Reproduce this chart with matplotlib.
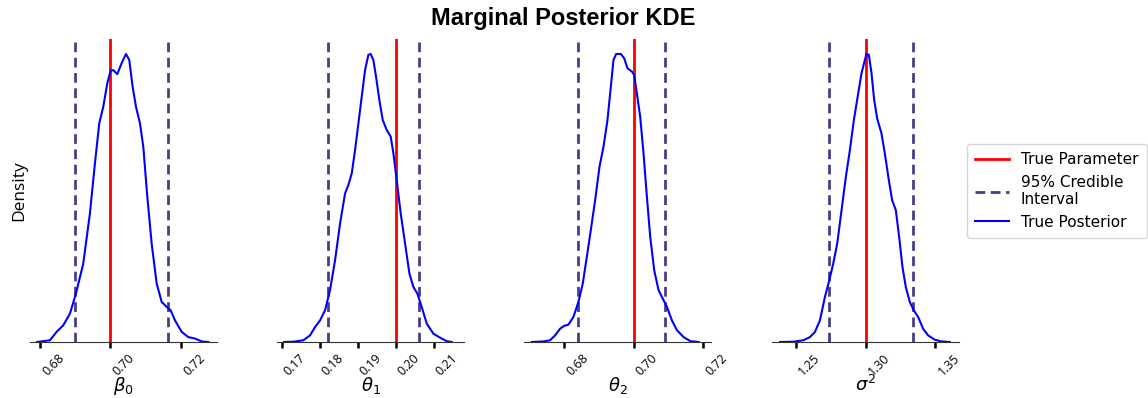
import numpy as np
import matplotlib
matplotlib.use("Agg")
import matplotlib.pyplot as plt
import matplotlib.transforms as mtransforms

# parameter names and reference values
param_labels = [r"$\beta_0$", r"$\theta_1$", r"$\theta_2$", r"$\sigma^2$"]
true_values = [0.70, 0.20, 0.70, 1.30]
ci_lower = [0.68993, 0.18210, 0.68404, 1.27339]
ci_upper = [0.71622, 0.20610, 0.70894, 1.33377]

xticks_list = [
    [0.68, 0.70, 0.72],
    [0.17, 0.18, 0.19, 0.20, 0.21],
    [0.68, 0.70, 0.72],
    [1.25, 1.30, 1.35],
]
xlims = [(0.6772, 0.7302), (0.16876, 0.21797), (0.66854, 0.7224), (1.2326, 1.3667)]

# KDE curves (relative density)
beta0_x = [0.67924, 0.68284, 0.68473, 0.68662, 0.68851, 0.69021, 0.69229, 0.69418,
           0.69560, 0.69683, 0.69797, 0.69910, 0.70005, 0.70080, 0.70194, 0.70317,
           0.70440, 0.70534, 0.70629, 0.70723, 0.70837, 0.70931, 0.71045, 0.71168,
           0.71310, 0.71452, 0.71593, 0.71707, 0.71830, 0.72019, 0.72208, 0.72397,
           0.72586, 0.72775]
beta0_y = [0.0, 0.006, 0.035, 0.058, 0.098, 0.168, 0.272, 0.446, 0.620, 0.759,
           0.817, 0.898, 0.942, 0.944, 0.930, 0.968, 1.0, 0.979, 0.886, 0.817,
           0.759, 0.678, 0.504, 0.342, 0.203, 0.139, 0.122, 0.110, 0.075, 0.035,
           0.017, 0.012, 0.002, 0.0]

theta1_x = [0.17061, 0.17307, 0.17570, 0.17746, 0.17877, 0.18009, 0.18140, 0.18272,
            0.18404, 0.18535, 0.18667, 0.18754, 0.18842, 0.18930, 0.19018, 0.19105,
            0.19193, 0.19281, 0.19342, 0.19412, 0.19482, 0.19570, 0.19658, 0.19763,
            0.19868, 0.19939, 0.20026, 0.20132, 0.20246, 0.20360, 0.20465, 0.20570,
            0.20684, 0.20816, 0.20991, 0.21167, 0.21342, 0.21474]
theta1_y = [0.0, 0.001, 0.006, 0.023, 0.052, 0.075, 0.110, 0.180, 0.284, 0.411,
            0.516, 0.545, 0.585, 0.666, 0.759, 0.851, 0.944, 0.997, 1.0, 0.979,
            0.921, 0.840, 0.771, 0.736, 0.713, 0.655, 0.562, 0.446, 0.342, 0.238,
            0.191, 0.168, 0.122, 0.064, 0.029, 0.015, 0.003, 0.0]

theta2_x = [0.67067, 0.67404, 0.67596, 0.67740, 0.67885, 0.68000, 0.68125, 0.68269,
            0.68413, 0.68538, 0.68654, 0.68769, 0.68894, 0.69019, 0.69135, 0.69250,
            0.69346, 0.69423, 0.69500, 0.69635, 0.69731, 0.69827, 0.69952, 0.70019,
            0.70096, 0.70192, 0.70288, 0.70385, 0.70481, 0.70596, 0.70721, 0.70865,
            0.70962, 0.71106, 0.71250, 0.71442, 0.71635, 0.71875]
theta2_y = [0.0, 0.002, 0.006, 0.023, 0.046, 0.056, 0.060, 0.087, 0.139, 0.203,
            0.295, 0.388, 0.492, 0.608, 0.678, 0.771, 0.886, 0.979, 1.0, 1.0,
            0.985, 0.950, 0.939, 0.927, 0.863, 0.782, 0.655, 0.504, 0.365, 0.249,
            0.180, 0.145, 0.122, 0.075, 0.041, 0.017, 0.003, 0.0]

sigma2_x = [1.23854, 1.24809, 1.25525, 1.26002, 1.26360, 1.26718, 1.27076, 1.27387,
            1.27673, 1.27959, 1.28270, 1.28580, 1.28866, 1.29153, 1.29463, 1.29702,
            1.29940, 1.30060, 1.30227, 1.30418, 1.30609, 1.30823, 1.31134, 1.31372,
            1.31659, 1.31897, 1.32160, 1.32399, 1.32637, 1.32876, 1.33162, 1.33449,
            1.33759, 1.34117, 1.34475, 1.34952, 1.35430, 1.36026]
sigma2_y = [0.0, 0.001, 0.006, 0.017, 0.035, 0.075, 0.156, 0.214, 0.272, 0.342,
            0.458, 0.574, 0.666, 0.771, 0.863, 0.933, 0.979, 1.0, 0.997, 0.933,
            0.840, 0.776, 0.724, 0.655, 0.562, 0.492, 0.458, 0.365, 0.261, 0.191,
            0.139, 0.110, 0.087, 0.046, 0.023, 0.008, 0.002, 0.0]

curves_x = [beta0_x, theta1_x, theta2_x, sigma2_x]
curves_y = [beta0_y, theta1_y, theta2_y, sigma2_y]

W, H = 1148, 398
fig = plt.figure(figsize=(W / 100, H / 100), dpi=100)

lefts = [30, 277, 524.3, 771.7]
ax_w = 187
ax_bottom = (H - 342) / H
ax_h = (342 - 39) / H

tick_font = "Open Sans"
shift = mtransforms.ScaledTranslation(-2 / 100, 0, fig.dpi_scale_trans)
handles = None
for i in range(4):
    ax = fig.add_axes([lefts[i] / W, ax_bottom, ax_w / W, ax_h])
    h1 = ax.axvline(true_values[i], color="red", lw=2, label="True Parameter")
    h2 = ax.axvline(ci_lower[i], color="darkslateblue", lw=2, ls="--",
                    dashes=(3.5, 2), label="95% Credible\nInterval")
    ax.axvline(ci_upper[i], color="darkslateblue", lw=2, ls="--", dashes=(3.5, 2))
    h3, = ax.plot(curves_x[i], curves_y[i], color="blue", lw=1.5, label="True Posterior")
    if handles is None:
        handles = [h1, h2, h3]

    ax.set_xlim(*xlims[i])
    ax.set_ylim(0, 1.052)
    ax.set_yticks([])
    ax.set_xticks(xticks_list[i])
    ax.set_xticklabels([f"{t:.2f}" for t in xticks_list[i]], rotation=45,
                       ha="left", fontsize=9, family=tick_font)
    for lbl in ax.get_xticklabels():
        lbl.set_transform(lbl.get_transform() + shift)
    ax.tick_params(axis="x", length=4, width=1.8, color="black", pad=3)
    for s in ["top", "right", "left"]:
        ax.spines[s].set_visible(False)
    ax.spines["bottom"].set_color("#333333")
    ax.set_xlabel(param_labels[i], fontsize=13)
    ax.xaxis.set_label_coords(0.5, -(375 - 342) / (342 - 39))
    if i == 0:
        ax.set_ylabel("Density", fontsize=12.5, family=tick_font, labelpad=2)

fig.text(563 / W, 1 - 19 / H, "Marginal Posterior KDE", ha="center", va="center",
         fontsize=17, fontweight="bold", family="Liberation Sans")

fig.legend(handles=handles, loc="center left", bbox_to_anchor=(959 / W, 1 - 191 / H),
           fontsize=11, frameon=True, handlelength=2.2, borderpad=0.55,
           labelspacing=0.5, handletextpad=0.8)

fig.savefig("out.png", dpi=100)
